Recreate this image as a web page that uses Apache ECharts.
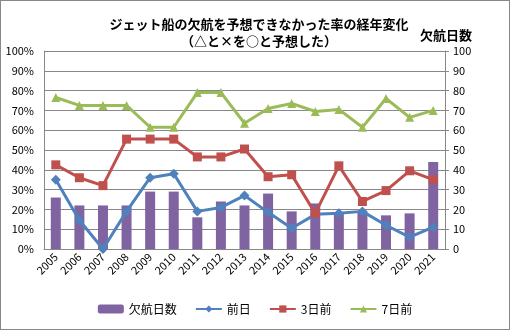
<!DOCTYPE html>
<html>
<head>
<meta charset="utf-8">
<script src="https://cdn.jsdelivr.net/npm/echarts@6/dist/echarts.min.js"></script>
<style>
  html, body { margin: 0; padding: 0; background: #fff; }
  #chart { width: 508px; height: 328px; border: 1px solid #888; }
</style>
</head>
<body>
<div id="chart"></div>
<script>
// Years on the category axis
const years = ['2005','2006','2007','2008','2009','2010','2011','2012','2013',
               '2014','2015','2016','2017','2018','2019','2020','2021'];
// Number of cancelled days (right axis)
const cancelDays = [26, 22, 22, 22, 29, 29, 16, 24, 22, 28, 19, 23, 18, 19, 17, 18, 44];
// Miss rate (%) by forecast lead time (left axis)
const dayBefore = [35, 14.5, 0, 19, 36, 38, 19, 21, 27, 18.5, 10.5, 17.5, 18, 19, 12, 6, 11];
const threeDays = [42.5, 36, 32, 55.5, 55.5, 55.5, 46.5, 46.5, 50.5, 36.5, 37.5, 18, 42, 24, 29.5, 39.5, 35];
const sevenDays = [76.5, 72.5, 72.5, 72.5, 61.5, 61.5, 79, 79, 63.5, 71, 73.5, 69.5, 70.5, 61.5, 76, 66.5, 70];
// Tick values shared by both value axes
const ticks = [0, 10, 20, 30, 40, 50, 60, 70, 80, 90, 100];

const font = '"Noto Sans CJK JP", "Noto Sans", sans-serif';
const chart = echarts.init(document.getElementById('chart'));

chart.setOption({
  animation: false,
  textStyle: { fontFamily: font },
  title: [
    {
      text: 'ジェット船の欠航を予想できなかった率の経年変化\n（△と×を○と予想した）',
      left: 253, top: 10, textAlign: 'center',
      textStyle: { fontSize: 13, fontWeight: 'bold', color: '#000', lineHeight: 17, fontFamily: font }
    },
    {
      text: '欠航日数',
      left: 414, top: 23,
      textStyle: { fontSize: 13, fontWeight: 'bold', color: '#000', fontFamily: font }
    }
  ],
  grid: { left: 43, right: 64, top: 50, bottom: 80 },
  legend: {
    bottom: 9, left: 'center',
    itemWidth: 26, itemHeight: 9, itemGap: 18,
    textStyle: { fontSize: 12, color: '#000', fontFamily: font },
    data: ['欠航日数', '前日', '3日前', '7日前']
  },
  xAxis: {
    type: 'category',
    data: years,
    axisTick: { show: false },
    axisLine: { lineStyle: { color: '#888' } },
    axisLabel: { rotate: 45, color: '#000', fontSize: 11, margin: 6, interval: 0 }
  },
  yAxis: [
    {
      type: 'value', min: ticks[0], max: ticks[ticks.length - 1], interval: 10,
      axisLine: { show: true, lineStyle: { color: '#888' } },
      axisTick: { show: false },
      axisLabel: { formatter: '{value}%', color: '#000', fontSize: 11, margin: 10 },
      splitLine: { lineStyle: { color: '#888', width: 1 } }
    },
    {
      type: 'value', min: ticks[0], max: ticks[ticks.length - 1], interval: 10,
      position: 'right',
      axisLine: { show: true, lineStyle: { color: '#888' } },
      axisTick: { show: true, length: 4, lineStyle: { color: '#888' } },
      axisLabel: { color: '#000', fontSize: 11, margin: 8 },
      splitLine: { show: false }
    }
  ],
  series: [
    {
      name: '欠航日数', type: 'bar', yAxisIndex: 1, data: cancelDays,
      barWidth: 10, itemStyle: { color: '#8064A2' }
    },
    {
      name: '前日', type: 'line', yAxisIndex: 0, data: dayBefore,
      symbol: 'diamond', symbolSize: 10, clip: false,
      lineStyle: { color: '#4F81BD', width: 3 }, itemStyle: { color: '#4F81BD' }
    },
    {
      name: '3日前', type: 'line', yAxisIndex: 0, data: threeDays,
      symbol: 'rect', symbolSize: 9, clip: false,
      lineStyle: { color: '#C0504D', width: 3 }, itemStyle: { color: '#C0504D' }
    },
    {
      name: '7日前', type: 'line', yAxisIndex: 0, data: sevenDays,
      symbol: 'triangle', symbolSize: 9, clip: false,
      lineStyle: { color: '#9BBB59', width: 3 }, itemStyle: { color: '#9BBB59' }
    }
  ]
});
</script>
</body>
</html>
